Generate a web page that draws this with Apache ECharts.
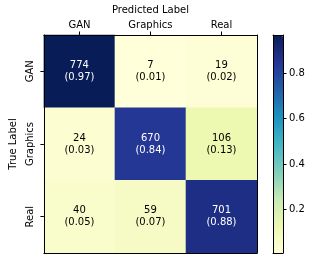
<!DOCTYPE html>
<html><head><meta charset="utf-8">
<script src="https://cdn.jsdelivr.net/npm/echarts@6/dist/echarts.min.js"></script>
<style>html,body{margin:0;padding:0;background:#fff}#c{width:313px;height:260px}</style>
</head><body><div id="c"></div>
<script>
const xCategories = ['GAN', 'Graphics', 'Real'];
const yCategories = ['GAN', 'Graphics', 'Real'];
const counts = [
  [774, 7, 19],
  [24, 670, 106],
  [40, 59, 701]
];
const fractions = [
  [0.97, 0.01, 0.02],
  [0.03, 0.84, 0.13],
  [0.05, 0.07, 0.88]
];
const colorMin = 0.009;
const colorMax = 0.968;
const colorbarTicks = [0.2, 0.4, 0.6, 0.8];
const xTitle = 'Predicted Label';
const yTitle = 'True Label';

const palette = ['#ffffd9','#edf8b1','#c7e9b4','#7fcdbb','#41b6c4','#1d91c0','#225ea8','#253494','#081d58'];
const FONT = 'DejaVu Sans';

const data = [];
for (let r = 0; r < yCategories.length; r++) {
  for (let c = 0; c < xCategories.length; c++) {
    const f = fractions[r][c];
    data.push({
      value: [c, r, f, counts[r][c]],
      label: { color: f > (colorMax / 2) ? '#ffffff' : '#000000' }
    });
  }
}

const chart = echarts.init(document.getElementById('c'), null, { renderer: 'canvas' });
const lineStyle = { color: '#000', width: 1 };
chart.setOption({
  backgroundColor: '#fff',
  animation: false,
  textStyle: { fontFamily: FONT },
  grid: [
    { left: 38, top: 35, width: 219, height: 218 },
    { left: 273, top: 35, width: 10, height: 218 }
  ],
  xAxis: [
    { gridIndex: 0, type: 'category', data: xCategories, position: 'top', z: 10,
      name: xTitle, nameLocation: 'middle', nameGap: 16.5,
      nameTextStyle: { fontFamily: FONT, fontSize: 10, color: '#000' },
      axisLine: { show: true, lineStyle }, axisTick: { show: true, alignWithLabel: true, length: 3.5, lineStyle },
      axisLabel: { fontFamily: FONT, fontSize: 10, color: '#000', margin: 5 },
      splitLine: { show: false } },
    { gridIndex: 0, type: 'category', data: xCategories, position: 'bottom', z: 10,
      axisLine: { show: true, lineStyle }, axisTick: { show: false }, axisLabel: { show: false }, splitLine: { show: false } },
    { gridIndex: 1, type: 'value', position: 'top', z: 10, min: 0, max: 1,
      axisLine: { show: true, onZero: false, lineStyle }, axisTick: { show: false }, axisLabel: { show: false }, splitLine: { show: false } },
    { gridIndex: 1, type: 'value', position: 'bottom', z: 10, min: 0, max: 1,
      axisLine: { show: true, onZero: false, lineStyle }, axisTick: { show: false }, axisLabel: { show: false }, splitLine: { show: false } }
  ],
  yAxis: [
    { gridIndex: 0, type: 'category', data: yCategories, inverse: true, position: 'left', z: 10,
      name: yTitle, nameLocation: 'middle', nameGap: 22, nameRotate: 90,
      nameTextStyle: { fontFamily: FONT, fontSize: 10, color: '#000' },
      axisLine: { show: true, lineStyle }, axisTick: { show: true, alignWithLabel: true, length: 3.5, lineStyle },
      axisLabel: { fontFamily: FONT, fontSize: 10, color: '#000', rotate: 90, margin: 8 },
      splitLine: { show: false } },
    { gridIndex: 0, type: 'category', data: yCategories, inverse: true, position: 'right', z: 10,
      axisLine: { show: true, lineStyle }, axisTick: { show: false }, axisLabel: { show: false }, splitLine: { show: false } },
    { gridIndex: 1, type: 'value', position: 'left', z: 10, min: colorMin, max: colorMax,
      axisLine: { show: true, onZero: false, lineStyle }, axisTick: { show: false }, axisLabel: { show: false }, splitLine: { show: false } },
    { gridIndex: 1, type: 'value', position: 'right', z: 10, min: colorMin, max: colorMax,
      axisLine: { show: true, onZero: false, lineStyle },
      axisTick: { show: true, length: 3.5, lineStyle, customValues: colorbarTicks },
      axisLabel: { fontFamily: FONT, fontSize: 10, color: '#000', margin: 6, customValues: colorbarTicks,
        formatter: v => v.toFixed(1) },
      splitLine: { show: false } }
  ],
  visualMap: {
    type: 'continuous', min: colorMin, max: colorMax, dimension: 2, seriesIndex: 0,
    calculable: false, realtime: false, left: 273, top: 35, padding: 0,
    itemWidth: 10, itemHeight: 218, text: null, showLabel: false,
    inRange: { color: palette }
  },
  series: [{
    type: 'heatmap', xAxisIndex: 0, yAxisIndex: 0, data: data,
    label: { show: true, fontFamily: FONT, fontSize: 10, lineHeight: 12,
      formatter: p => p.value[3] + '\n(' + p.value[2].toFixed(2) + ')' },
    itemStyle: { borderWidth: 0 },
    emphasis: { disabled: true }
  }]
});
</script></body></html>
